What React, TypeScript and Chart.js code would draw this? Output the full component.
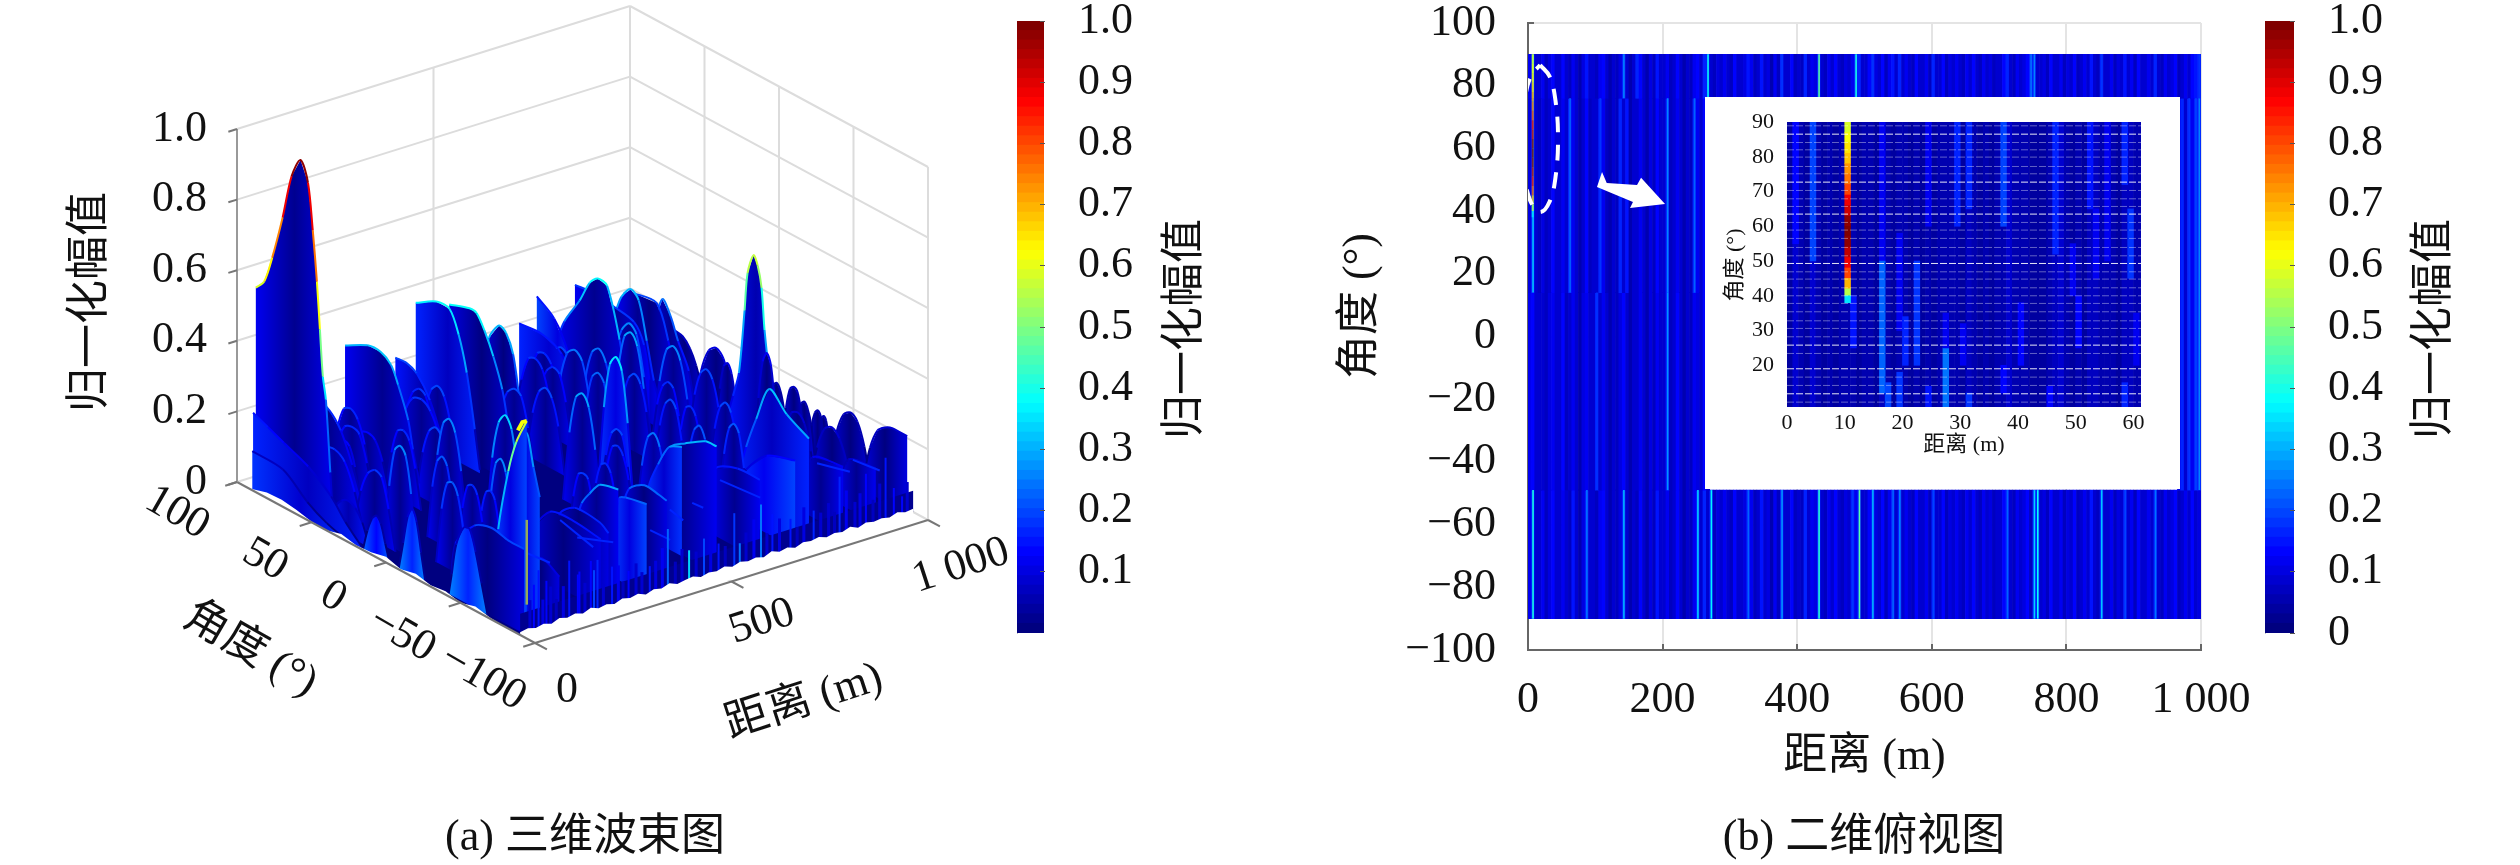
import React, { useEffect, useRef } from "react";
import { Chart, registerables } from "chart.js";

Chart.register(...registerables);

// ---------- axis values ----------
const ampTicks3D = [0, 0.2, 0.4, 0.6, 0.8, 1];
const angleTicks3D = [100, 50, 0, -50, -100];
const rangeTicks3D = [0, 500, 1000];
const wallAngleGrid = [50, 0, -50, -100];
const cbarTicksLeft = [0.1, 0.2, 0.3, 0.4, 0.5, 0.6, 0.7, 0.8, 0.9, 1];
const cbarTicksRight = [0, 0.1, 0.2, 0.3, 0.4, 0.5, 0.6, 0.7, 0.8, 0.9, 1];
const heatRangeTicks = [0, 200, 400, 600, 800, 1000];
const heatAngleTicks = [100, 80, 60, 40, 20, 0, -20, -40, -60, -80, -100];
const insetRangeTicks = [0, 10, 20, 30, 40, 50, 60];
const insetAngleTicks = [90, 80, 70, 60, 50, 40, 30, 20];

// ---------- 3-D surface: constant-range sheets (r = range, a = angles, z = normalised amplitude, f = face, e = edge gain) ----------
const farSheets = [
  { r: 985, a: [-60, -90], z: [0.02, 0.13, 0.19, 0.21, 0.22, 0.22, 0.22], f: 0.01, e: 0.45 },
  { r: 1000, a: [-34, -62], z: [0, 0.11, 0.17, 0.186, 0.17, 0.11, 0], f: 0.01, e: 0.45 },
  { r: 1000, a: [-25, -35], z: [0, 0.08, 0.125, 0.135, 0.125, 0.08, 0], f: 0.01, e: 0.45 },
  { r: 1000, a: [-20, -32], z: [0, 0.09, 0.13, 0.142, 0.13, 0.08, 0], f: 0.01, e: 0.45 },
  { r: 1000, a: [-10, -24], z: [0, 0.09, 0.135, 0.146, 0.13, 0.09, 0], f: 0.01, e: 0.45 },
  { r: 1000, a: [-2, -18], z: [0, 0.1, 0.16, 0.172, 0.16, 0.1, 0], f: 0.01, e: 0.45 },
  { r: 1000, a: [9, -6], z: [0, 0.09, 0.145, 0.157, 0.14, 0.09, 0], f: 0.01, e: 0.45 },
  { r: 960, a: [67.4, 60.6, 54, 49.2, 45, 38], z: [0.223, 0.19, 0.183, 0.16, 0.12, 0.02], f: 0.015, e: 0.45 },
  { r: 930, a: [39, 8.6], z: [0, 0.14, 0.21, 0.23, 0.21, 0.13, 0], f: 0.015, e: 0.55 },
  { r: 930, a: [24, 8], z: [0, 0.12, 0.19, 0.204, 0.18, 0.11, 0], f: 0.015, e: 0.55 },
  { r: 911, a: [-44, -74], z: [0, 0.12, 0.185, 0.2, 0.18, 0.12, 0], f: 0.01, e: 0.5 },
  { r: 905, a: [-64, -71.6, -90], z: [0.05, 0.14, 0.157], f: 0.02, e: 0.7 },
  { r: 900, a: [-26, -52], z: [0, 0.12, 0.19, 0.2, 0.18, 0.11, 0], f: 0.01, e: 0.5 },
  { r: 898, a: [8, 4, 0, -3.8, -5.8, -9.8, -12.6, -15.2, -17.2, -20.6, -22.6, -30.8], z: [0.08, 0.15, 0.224, 0.41, 0.52, 0.58, 0.557, 0.5, 0.385, 0.266, 0.24, 0.1], f: 0.06, e: 1 },
  { r: 895, a: [62, 56.6, 50.6, 45, 40, 32.8, 28], z: [0.12, 0.228, 0.319, 0.283, 0.224, 0.156, 0.03], f: 0.03, e: 0.9 },
  { r: 880, a: [-15, -32], z: [0, 0.2, 0.31, 0.34, 0.31, 0.19, 0], f: 0.015, e: 0.4 },
  { r: 870, a: [70, 61.4, 47.8, 40, 36], z: [0.3, 0.317, 0.323, 0.234, 0.15], f: 0.015, e: 0.7 },
  { r: 861, a: [24, 0], z: [0, 0.13, 0.2, 0.22, 0.2, 0.13, 0], f: 0.02, e: 1 },
  { r: 841, a: [67, 63.6, 57.6, 52.2, 46.8, 42, 38.6], z: [0.275, 0.316, 0.35, 0.33, 0.228, 0.126, 0.08], f: 0.02, e: 1 },
  { r: 822, a: [90, 77.6, 64, 50.4, 43.6, 40], z: [0.295, 0.3, 0.293, 0.28, 0.23, 0.14], f: 0.02, e: 0.7 },
  { r: 822, a: [-60, -69.4, -90], z: [0.05, 0.17, 0.19], f: 0.02, e: 0.7 },
  { r: 792, a: [30, 2], z: [0, 0.18, 0.28, 0.3, 0.27, 0.17, 0], f: 0.02, e: 1 },
  { r: 792, a: [-8, -30], z: [0, 0.13, 0.2, 0.22, 0.2, 0.13, 0], f: 0.03, e: 1 },
  { r: 789, a: [60, 30], z: [0, 0.18, 0.27, 0.3, 0.28, 0.17, 0], f: 0.02, e: 1 },
  { r: 782, a: [28, 6], z: [0, 0.12, 0.18, 0.2, 0.19, 0.12, 0], f: 0.02, e: 1 },
];

const midSheets = [
  { r: 746, a: [83.8, 77, 66.8, 60, 54.6, 48.4, 40, 34.2, 30], z: [0.16, 0.248, 0.33, 0.396, 0.42, 0.414, 0.28, 0.13, 0.05], f: 0.025, e: 1 },
  { r: 745, a: [2, -18], z: [0, 0.12, 0.19, 0.2, 0.18, 0.11, 0], f: 0.02, e: 1 },
  { r: 735, a: [-40, -44, -47.8, -54.6, -63.4, -75, -90], z: [0, 0.108, 0.18, 0.275, 0.38, 0.335, 0.3], f: 0.075, e: 1 },
  { r: 733, a: [42, 16], z: [0, 0.2, 0.31, 0.33, 0.3, 0.19, 0], f: 0.03, e: 1 },
  { r: 731, a: [38, 14], z: [0, 0.13, 0.2, 0.22, 0.2, 0.13, 0], f: 0.02, e: 1 },
  { r: 725, a: [90, 78.4, 69.4, 64.8, 62], z: [0.296, 0.26, 0.188, 0.08, 0.01], f: 0.1, e: 0.6 },
  { r: 713, a: [8, -14], z: [0, 0.13, 0.2, 0.22, 0.2, 0.12, 0], f: 0.02, e: 1 },
  { r: 711, a: [-36, -56], z: [0, 0.15, 0.23, 0.25, 0.23, 0.14, 0], f: 0.03, e: 1 },
  { r: 700, a: [-48, -50.6, -57.2, -70.8, -90], z: [0, 0.08, 0.15, 0.22, 0.25], f: 0.11, e: 0.6 },
  { r: 692, a: [80, 50], z: [0, 0.13, 0.2, 0.22, 0.2, 0.13, 0], f: 0.02, e: 1 },
  { r: 686, a: [52, 24], z: [0, 0.17, 0.26, 0.28, 0.25, 0.16, 0], f: 0.02, e: 1 },
  { r: 680, a: [90, 75, 61.4, 54, 50], z: [0.235, 0.24, 0.214, 0.14, 0.02], f: 0.08, e: 0.7 },
  { r: 668, a: [84, 56], z: [0, 0.12, 0.19, 0.2, 0.18, 0.12, 0], f: 0.02, e: 1 },
  { r: 650, a: [-28, -50], z: [0, 0.15, 0.23, 0.25, 0.22, 0.14, 0], f: 0.03, e: 1 },
  { r: 643, a: [58, 28], z: [0, 0.17, 0.26, 0.28, 0.26, 0.16, 0], f: 0.02, e: 1 },
  { r: 641, a: [70, 44], z: [0, 0.12, 0.18, 0.2, 0.19, 0.12, 0], f: 0.02, e: 1 },
  { r: 638, a: [82, 54], z: [0, 0.12, 0.19, 0.2, 0.18, 0.11, 0], f: 0.02, e: 1 },
  { r: 623, a: [34, 10], z: [0, 0.16, 0.25, 0.27, 0.25, 0.15, 0], f: 0.02, e: 1 },
  { r: 610, a: [-56, -60, -75, -90], z: [0.08, 0.19, 0.225, 0.227], f: 0.02, e: 0.8 },
  { r: 562, a: [6, -18], z: [0, 0.24, 0.37, 0.4, 0.37, 0.23, 0], f: 0.095, e: 1 },
  { r: 546, a: [50, 24], z: [0, 0.13, 0.2, 0.22, 0.2, 0.13, 0], f: 0.02, e: 1 },
  { r: 538, a: [-2, -24], z: [0, 0.13, 0.2, 0.22, 0.21, 0.13, 0], f: 0.03, e: 1 },
  { r: 522, a: [-30, -54], z: [0, 0.17, 0.26, 0.28, 0.25, 0.16, 0], f: 0.04, e: 1 },
  { r: 510, a: [69.4, 67.4, 65.4, 58.6, 54, 49.2, 45, 42], z: [0.07, 0.21, 0.31, 0.36, 0.35, 0.3, 0.18, 0.04], f: 0.015, e: 1 },
  { r: 510, a: [-10, -32], z: [0, 0.12, 0.19, 0.2, 0.18, 0.12, 0], f: 0.03, e: 1 },
  { r: 500, a: [-44, -45.8, -52, -59.4, -68.8, -82.4, -90], z: [0.03, 0.148, 0.224, 0.29, 0.32, 0.357, 0.36], f: 0.02, e: 1 },
  { r: 495, a: [-44, -45.8, -52, -59.4, -68], z: [0.03, 0.148, 0.224, 0.29, 0.31], f: 0.09, e: 1 },
  { r: 493, a: [58, 30], z: [0, 0.13, 0.2, 0.22, 0.21, 0.13, 0], f: 0.02, e: 1 },
  { r: 473, a: [6, -20], z: [0, 0.2, 0.31, 0.33, 0.3, 0.19, 0], f: 0.03, e: 1 },
  { r: 444, a: [62, 34], z: [0, 0.12, 0.19, 0.2, 0.18, 0.12, 0], f: 0.02, e: 1 },
  { r: 440, a: [73.6, 60, 55.2, 50, 44, 38, 33.6, 30], z: [0.41, 0.43, 0.427, 0.39, 0.33, 0.25, 0.145, 0.04], f: 0.015, e: 1 },
  { r: 438, a: [-22, -42], z: [0, 0.13, 0.19, 0.2, 0.18, 0.11, 0], f: 0.03, e: 1 },
  { r: 417, a: [90, 76.2, 67.4, 61.2, 55.8, 50.4, 47], z: [0.385, 0.42, 0.42, 0.36, 0.265, 0.117, 0.01], f: 0.075, e: 1 },
];

const nearSheets = [
  { r: 378, a: [78, 52], z: [0, 0.13, 0.2, 0.22, 0.2, 0.13, 0], f: 0.02, e: 1 },
  { r: 373, a: [-24, -44], z: [0, 0.12, 0.19, 0.2, 0.19, 0.11, 0], f: 0.03, e: 1 },
  { r: 373, a: [-59.4, -64.8, -75, -85, -90], z: [0.15, 0.227, 0.26, 0.255, 0.25], f: 0.015, e: 1 },
  { r: 365, a: [90, 82.4, 75.6, 66.8, 58.6, 54], z: [0.248, 0.25, 0.236, 0.18, 0.085, 0], f: 0.06, e: 0.9 },
  { r: 361, a: [86, 60], z: [0, 0.12, 0.18, 0.2, 0.19, 0.12, 0], f: 0.02, e: 1 },
  { r: 333, a: [82, 46], z: [0, 0.13, 0.19, 0.2, 0.18, 0.12, 0], f: 0.02, e: 1 },
  { r: 322, a: [-67, -71.6, -76, -90], z: [0.12, 0.234, 0.245, 0.258], f: 0.1, e: 1 },
  { r: 258, a: [84, 58], z: [0, 0.15, 0.23, 0.25, 0.23, 0.14, 0], f: 0.02, e: 1 },
  { r: 251, a: [46, 20], z: [0, 0.13, 0.2, 0.22, 0.2, 0.13, 0], f: 0.02, e: 1 },
  { r: 250, a: [-60.6, -65.4, -70.8, -77.6, -90], z: [0.147, 0.23, 0.27, 0.31, 0.325], f: 0.02, e: 1 },
  { r: 237, a: [90, 74.8, 66, 59.2, 54.4, 47.6, 44.4, 40], z: [0.327, 0.362, 0.363, 0.343, 0.297, 0.212, 0.136, 0.05], f: 0.02, e: 1 },
  { r: 231, a: [-6, -32], z: [0, 0.24, 0.35, 0.38, 0.35, 0.22, 0], f: 0.03, e: 1 },
  { r: 225, a: [-50, -57.2, -67.4, -84, -90], z: [0.05, 0.19, 0.23, 0.227, 0.21], f: 0.015, e: 0.8 },
  { r: 214, a: [26, 2], z: [0, 0.18, 0.28, 0.3, 0.27, 0.17, 0], f: 0.02, e: 1 },
  { r: 211, a: [56, 32], z: [0, 0.12, 0.19, 0.2, 0.18, 0.11, 0], f: 0.02, e: 1 },
  { r: 205, a: [-40, -56, -71.6, -90], z: [0.1, 0.2, 0.21, 0.2], f: 0.015, e: 0.8 },
  { r: 200, a: [80, 50], z: [0, 0.09, 0.14, 0.15, 0.14, 0.09, 0], f: 0.02, e: 1 },
  { r: 191, a: [88, 60], z: [0, 0.12, 0.19, 0.2, 0.18, 0.12, 0], f: 0.02, e: 1 },
  { r: 178, a: [-20, -40], z: [0, 0.18, 0.28, 0.3, 0.27, 0.17, 0], f: 0.03, e: 1 },
  { r: 171, a: [-16, -34], z: [0, 0.13, 0.19, 0.2, 0.18, 0.1, 0], f: 0.02, e: 1 },
  { r: 160, a: [80, 50], z: [0, 0.11, 0.17, 0.18, 0.17, 0.1, 0], f: 0.02, e: 1 },
  { r: 159, a: [-6, -26], z: [0, 0.12, 0.19, 0.2, 0.18, 0.11, 0], f: 0.02, e: 1 },
  { r: 143, a: [10, -10], z: [0, 0.15, 0.23, 0.25, 0.23, 0.14, 0], f: 0.02, e: 1 },
  { r: 140, a: [76, 54], z: [0, 0.09, 0.14, 0.15, 0.14, 0.09, 0], f: 0.02, e: 1 },
  { r: 118, a: [-10, -24], z: [0, 0.09, 0.14, 0.15, 0.14, 0.08, 0], f: 0.02, e: 1 },
  { r: 110, a: [90, 44], z: [0.12, 0.22, 0.25, 0.24, 0.2, 0.12, 0.02], f: 0.03, e: 0.8 },
  { r: 100, a: [-65, -72, -78, -90], z: [0.03, 0.12, 0.156, 0.13], f: 0.015, e: 0.8 },
  { r: 82, a: [-12, -34], z: [0, 0.16, 0.24, 0.25, 0.22, 0.13, 0], f: 0.03, e: 1 },
  { r: 55, a: [16, -6], z: [0, 0.17, 0.28, 0.3, 0.28, 0.18, 0], f: 0.03, e: 1 },
  { r: 50, a: [-70, -74.2, -81, -85.8, -90], z: [0.2, 0.42, 0.535, 0.448, 0.373], f: 0.1, e: 0.55 },
  { r: 47, a: [34, 6], z: [0, 0.12, 0.18, 0.2, 0.19, 0.11, 0], f: 0.03, e: 1 },
  { r: 44, a: [66, 26], z: [0, 0.12, 0.19, 0.2, 0.18, 0.11, 0], f: 0.04, e: 1 },
  { r: 18, a: [44, 16], z: [0, 0.06, 0.09, 0.1, 0.09, 0.06, 0], f: 0.06, e: 1 },
  { r: 17, a: [-68, -70.8, -77.6, -83, -90], z: [0.1, 0.25, 0.43, 0.525, 0.6], f: 0.1, e: 1 },
  { r: 10, a: [90, 84.4, 79, 72, 66, 60, 55, 51.8, 49, 47, 45, 43, 40, 38], z: [0.57, 0.6, 0.68, 0.81, 0.94, 1, 0.947, 0.82, 0.68, 0.55, 0.42, 0.36, 0.16, 0.02], f: 0.02, e: 1 },
  { r: 10, a: [-41, -44, -56.6, -68, -79.6, -90], z: [0.03, 0.15, 0.23, 0.25, 0.24, 0.24], f: 0.015, e: 0.9 },
  { r: 8, a: [-40, -42, -45, -50, -54, -58, -62, -66], z: [0, 0.06, 0.15, 0.21, 0.215, 0.16, 0.08, 0], f: 0.16, e: 0.4 },
  { r: 3, a: [90, 80, 69.4, 53, 37.6, 28, 16], z: [0.218, 0.2, 0.18, 0.15, 0.1, 0.05, 0], f: 0.07, e: 0.8 },
  { r: 2, a: [16, -2], z: [0, 0.06, 0.1, 0.116, 0.1, 0.05, 0], f: 0.13, e: 0.5 },
  { r: 2, a: [-8, -26], z: [0, 0.08, 0.16, 0.19, 0.16, 0.08, 0], f: 0.16, e: 0.5 },
  { r: 1, a: [90, 69.4, 53, 40, 25], z: [0.11, 0.105, 0.05, 0.02, 0], f: 0.085, e: 0.8 },
];

// bright crest fragments inside the near-right blocks
const innerCrests = [
  { r: 915, a: [-72, -90], z: [0.136, 0.147] },
  { r: 839, a: [-68, -90], z: [0.144, 0.17] },
  { r: 611, a: [-63, -90], z: [0.164, 0.176] },
  { r: 466, a: [-82.6, -90], z: [0.195, 0.198] },
  { r: 415, a: [-81, -90], z: [0.19, 0.18] },
  { r: 382, a: [-76.5, -90], z: [0.133, 0.136] },
  { r: 237, a: [-65.8, -90], z: [0.138, 0.18] },
  { r: 186, a: [-67.8, -90], z: [0.21, 0.184] },
  { r: 76, a: [-74.4, -90], z: [0.17, 0.178] },
];
// the yellow glint on top of the near wedge
const glintRange = 17;
const glintAngles = [-84, -87, -90];
const glintAmps = [0.56, 0.59, 0.6];

// comb of short peaks on the angle = -90 face
const stripRanges = [35, 47, 67, 125, 147, 151, 180, 188, 197, 234, 276, 330, 376, 430, 468, 505, 545, 559, 613, 642, 688, 747, 813, 880, 930, 951, 972];
const stripTops = [0.13, 0.167, 0.13, 0.167, 0.12, 0.127, 0.147, 0.118, 0.144, 0.112, 0.085, 0.08, 0.169, 0.09, 0.11, 0.083, 0.155, 0.065, 0.156, 0.118, 0.089, 0.092, 0.165, 0.15, 0.178, 0.085, 0.054];
const stripAmps = [0.14, 0.15, 0.13, 0.15, 0.13, 0.14, 0.14, 0.2, 0.16, 0.15, 0.13, 0.15, 0.22, 0.34, 0.2, 0.15, 0.18, 0.24, 0.24, 0.15, 0.15, 0.16, 0.16, 0.14, 0.15, 0.14, 0.14];
const combRanges = [25, 58, 78, 92, 110, 165, 212, 250, 262, 295, 310, 345, 362, 395, 412, 448, 485, 522, 575, 595, 628, 660, 705, 722, 765, 785, 800, 830, 852, 865, 898, 915, 985];
const combTops = [0.09, 0.08, 0.11, 0.07, 0.1, 0.09, 0.07, 0.11, 0.06, 0.1, 0.07, 0.09, 0.12, 0.07, 0.1, 0.08, 0.11, 0.07, 0.09, 0.12, 0.07, 0.1, 0.06, 0.11, 0.08, 0.1, 0.07, 0.12, 0.08, 0.1, 0.07, 0.11, 0.09];
const combAmps = [0.08, 0.1, 0.09, 0.07, 0.1, 0.09, 0.08, 0.11, 0.07, 0.09, 0.08, 0.1, 0.11, 0.07, 0.09, 0.08, 0.1, 0.07, 0.09, 0.11, 0.08, 0.1, 0.07, 0.1, 0.08, 0.09, 0.07, 0.11, 0.08, 0.1, 0.07, 0.09, 0.08];
const spikeRange = 17;
const spikeAmps = [0.08, 0.32];

// ragged lower edges of the surface (lowest amplitude along the two near faces)
const nearEdgeAngles = [90, 80, 70, 60, 50, 40, 30, 20, 10, 0, -10, -20, -30, -40, -50, -60, -70, -80, -90];
const nearEdgeAmps = [0.003, 0.016, 0.018, 0.012, 0.002, 0, 0.012, 0.003, 0.006, 0.016, 0.004, 0.014, 0.004, 0.01, 0, 0.012, 0.003, 0, 0];
const frontEdgeRanges = [0, 20, 40, 60, 80, 100, 120, 140, 160, 180, 200, 220, 240, 260, 280, 300, 320, 340, 360, 380, 400, 420, 440, 460, 480, 500, 520, 540, 560, 580, 600, 620, 640, 660, 680, 700, 720, 740, 760, 780, 800, 820, 840, 860, 880, 900, 920, 940, 960, 980, 1000];
const frontEdgeAmps = [0.008, 0.012, 0.006, 0.011, 0.004, 0.013, 0.007, 0.012, 0.005, 0.014, 0.006, 0.01, 0.004, 0.013, 0.007, 0.012, 0.003, 0.011, 0.006, 0.014, 0.005, 0.009, 0.012, 0.004, 0.01, 0.006, 0.013, 0.005, 0.012, 0.007, 0.01, 0.004, 0.014, 0.006, 0.011, 0.003, 0.012, 0.008, 0.013, 0.005, 0.01, 0.006, 0.014, 0.004, 0.012, 0.007, 0.01, 0.005, 0.013, 0.006, 0.009];

// ---------- 2-D top view: amplitude in percent, one value per 5 m range bin ----------
const heatBinWidth = 5;
const heatTopBand = [
  12, 44, 9, 8, 11, 7, 10, 14, 8, 9, 13, 8, 7, 12, 9, 6, 10, 15, 8, 9,
  7, 11, 13, 8, 6, 9, 7, 10, 26, 8, 6, 9, 17, 13, 8, 6, 10, 7, 15, 8,
  9, 11, 7, 8, 14, 8, 6, 9, 7, 11, 13, 8, 16, 38, 9, 7, 10, 8, 12, 9,
  7, 13, 8, 9, 10, 15, 11, 7, 9, 15, 8, 10, 6, 12, 7, 18, 8, 9, 13, 7,
  9, 7, 16, 8, 11, 10, 46, 9, 7, 12, 8, 14, 9, 7, 10, 8, 12, 40, 16, 9,
  8, 13, 18, 10, 9, 14, 7, 11, 15, 8, 17, 8, 12, 9, 7, 14, 9, 8, 11, 7,
  16, 9, 8, 13, 7, 10, 8, 12, 9, 7, 11, 8, 14, 9, 7, 12, 8, 10, 7, 9,
  8, 13, 17, 9, 7, 11, 8, 10, 13, 24, 26, 9, 8, 10, 7, 14, 9, 8, 12, 7,
  10, 8, 13, 7, 9, 11, 8, 15, 8, 7, 18, 9, 8, 12, 7, 10, 9, 15, 8, 11,
  7, 13, 9, 8, 11, 8, 16, 9, 7, 12, 8, 10, 14, 7, 9, 11, 8, 13, 15, 18,
];
const heatUpperLeft = [
  10, 32, 8, 7, 10, 7, 9, 13, 8, 9, 12, 8, 22, 11, 8, 6, 9, 13, 7, 9,
  8, 18, 12, 7, 6, 9, 7, 16, 8, 15, 6, 9, 8, 12, 8, 6, 10, 7, 13, 8,
  9, 26, 7, 8, 12, 8, 6, 9, 7, 22, 11, 8, 14, 9,
];
const heatLowerLeft = [
  11, 14, 8, 8, 9, 7, 10, 12, 8, 9, 13, 7, 8, 11, 9, 6, 10, 12, 8, 9,
  18, 9, 11, 8, 6, 9, 7, 10, 13, 8, 6, 9, 8, 11, 8, 6, 10, 7, 12, 8,
  9, 28, 7, 8, 13, 8, 6, 9, 7, 11, 10, 8, 13, 8,
];
const heatRightEdge = [12, 16, 9, 18, 11, 20, 26];
const heatBottomBand = [
  12, 40, 9, 8, 11, 7, 10, 14, 8, 9, 12, 8, 7, 15, 9, 6, 10, 24, 8, 9,
  7, 11, 14, 8, 6, 9, 7, 10, 30, 8, 6, 9, 7, 13, 8, 6, 10, 7, 15, 8,
  9, 11, 7, 8, 14, 8, 6, 9, 7, 11, 34, 8, 16, 9, 36, 7, 10, 8, 12, 9,
  7, 13, 8, 9, 10, 22, 11, 7, 9, 15, 8, 10, 6, 12, 7, 28, 8, 9, 13, 7,
  9, 7, 16, 8, 11, 10, 42, 9, 7, 12, 8, 14, 9, 7, 10, 8, 18, 11, 46, 9,
  8, 13, 30, 10, 9, 14, 7, 11, 22, 8, 26, 8, 12, 9, 7, 14, 9, 8, 11, 7,
  20, 9, 8, 13, 7, 10, 8, 12, 9, 7, 11, 8, 14, 9, 7, 12, 8, 10, 7, 9,
  8, 13, 22, 9, 7, 11, 8, 10, 13, 7, 34, 38, 8, 10, 7, 14, 9, 8, 12, 7,
  10, 8, 13, 7, 9, 11, 8, 15, 8, 7, 32, 9, 8, 12, 7, 10, 9, 20, 8, 11,
  7, 13, 9, 8, 11, 8, 24, 9, 7, 12, 8, 10, 14, 7, 9, 11, 8, 13, 9, 10,
];
const peakRange = 7;
const peakAngles = [90, 87, 84, 81, 78, 75, 72, 69, 66, 63, 60, 57, 54, 51, 48, 45, 42, 40, 38];
const peakAmps = [0.58, 0.62, 0.65, 0.68, 0.72, 0.76, 0.8, 0.88, 0.92, 0.97, 1, 0.98, 0.93, 0.88, 0.8, 0.7, 0.55, 0.35, 0.18];
const ellipseRanges = [18, 32, 41, 44.6, 41, 32, 18, 4, -5, -9, -5, 4, 18];
const ellipseAngles = [86.6, 83, 75, 63, 51, 43, 39.7, 43, 51, 63, 75, 83, 86.6];
const arrowRanges = [110, 117, 162, 168, 203.6, 151.6, 156, 102.5];
const arrowAngles = [52.5, 49, 48.3, 50.6, 42.3, 41, 42.9, 47.7];

// ---------- inset, 1 m bins ----------
const insetBase = [
  4, 9, 6, 4, 9, 5, 4, 5, 4, 5, 6, 5, 4, 5, 5, 4, 7, 6, 4, 5,
  5, 4, 6, 4, 6, 4, 5, 5, 6, 6, 4, 7, 5, 4, 5, 4, 5, 6, 8, 5,
  5, 5, 4, 4, 4, 5, 7, 8, 5, 4, 6, 4, 7, 7, 5, 6, 5, 4, 7, 7, 6, 6,
];
const insetStreakBins = [1, 4, 11, 16, 16, 17, 19, 19, 20, 22, 24, 24, 27, 27, 29, 31, 31, 30, 37, 37, 40, 46, 45, 49, 50, 52, 53, 55, 58, 58, 59, 60];
const insetStreakFrom = [55, 50, 25, 50, 12, 8, 8, 30, 20, 20, 60, 8, 8, 25, 60, 65, 8, 20, 60, 12, 20, 52, 8, 40, 25, 65, 45, 50, 72, 8, 45, 20];
const insetStreakTo = [90, 90, 40, 90, 50, 15, 18, 58, 34, 50, 90, 14, 25, 35, 90, 90, 12, 32, 90, 20, 38, 90, 14, 55, 40, 90, 65, 90, 90, 15, 65, 35];
const insetStreakAmps = [0.14, 0.2, 0.15, 0.12, 0.22, 0.2, 0.18, 0.12, 0.17, 0.18, 0.12, 0.15, 0.24, 0.12, 0.17, 0.16, 0.18, 0.12, 0.19, 0.14, 0.13, 0.17, 0.14, 0.12, 0.14, 0.15, 0.12, 0.11, 0.16, 0.16, 0.18, 0.12];
const insetPeakBin = 10;
const insetDimRows = [88.9, 84.1, 82, 79.9, 77.2, 75.1, 70.3, 67.9, 65.7, 61.1, 58.9, 56.5, 53.9, 51.5, 46.9, 44.8, 42.3, 40, 37.8, 35.4, 32.8, 30.6, 28.2, 23.4, 16.6, 14.2, 9.4];
const insetBrightRows = [86.5, 72.7, 63.5, 49.3, 25.8, 19, 11.8];

// ---------- helpers ----------
const SERIF = "'Liberation Serif','Noto Sans CJK SC',serif";
const clamp01 = (v: number) => Math.max(0, Math.min(1, v));
const jet = (v: number, alpha = 1) => {
  const q = Math.min(63, Math.floor(clamp01(v) * 64)) / 63;
  const c = (x: number) => Math.round(255 * clamp01(1.5 - Math.abs(4 * q - x)));
  return `rgba(${c(3)},${c(2)},${c(1)},${alpha})`;
};
// view used for the 3-D plot: angle runs down-right, range runs up-right, amplitude goes up.
const project = (range: number, angle: number, amp: number) => {
  const t = (100 - angle) / 200;
  return { x: 237 + 298 * t + 0.393 * range, y: 482 + 161 * t - 0.123 * range - 353 * amp };
};
const fixedTicks = (list: number[]) => (s: any) => {
  s.ticks = list.map((value) => ({ value }));
};
const fixedBox = (size: { width?: number; height?: number }) => (s: any) => {
  if (size.width !== undefined) s.width = size.width;
  if (size.height !== undefined) s.height = size.height;
  s.paddingTop = 0;
  s.paddingBottom = 0;
  s.paddingLeft = 0;
  s.paddingRight = 0;
};
const textPlugin = (items: any[]) => ({
  id: "texts",
  afterDraw(chart: any) {
    const ctx = chart.ctx;
    items.forEach((it) => {
      ctx.save();
      ctx.translate(it.x, it.y);
      ctx.rotate(((it.rot || 0) * Math.PI) / 180);
      ctx.font = `${it.size || 44}px ${SERIF}`;
      ctx.fillStyle = "#111";
      ctx.textAlign = it.align || "center";
      ctx.textBaseline = "middle";
      ctx.fillText(it.text, 0, 0);
      ctx.restore();
    });
  },
});
// fills closed outlines of datasets that carry a bodyColor, right before they are painted.
// A bodyShade pair lifts the two flanks of a sheet towards a lighter blue than its middle.
const bodyPlugin = {
  id: "bodies",
  beforeDatasetDraw(chart: any, args: any) {
    const ds = chart.data.datasets[args.index];
    if (!ds.bodyColor) return;
    const pts = args.meta.data;
    const ctx = chart.ctx;
    ctx.save();
    ctx.beginPath();
    pts.forEach((p: any, i: number) => (i ? ctx.lineTo(p.x, p.y) : ctx.moveTo(p.x, p.y)));
    ctx.closePath();
    let fillStyle = ds.bodyColor;
    if (ds.bodyShade) {
      const xs = pts.map((p: any) => p.x);
      const x0 = Math.min(...xs);
      const x1 = Math.max(...xs);
      if (x1 > x0) {
        const g = ctx.createLinearGradient(x0, 0, x1, 0);
        g.addColorStop(0, ds.bodyShade[1]);
        g.addColorStop(0.5, ds.bodyShade[0]);
        g.addColorStop(1, ds.bodyShade[1]);
        fillStyle = g;
      }
    }
    ctx.fillStyle = fillStyle;
    ctx.fill();
    ctx.restore();
  },
};
const baseOptions = (extra: any) => ({
  responsive: false,
  devicePixelRatio: 1,
  animation: false,
  events: [],
  plugins: { legend: { display: false }, tooltip: { enabled: false } },
  ...extra,
});
const stroke = (pts: any[], color: string, width: number, extra: any = {}) => ({
  type: "line",
  data: pts,
  borderColor: color,
  borderWidth: width,
  pointRadius: 0,
  fill: false,
  tension: 0,
  clip: false,
  ...extra,
});
const body = (pts: any[], color: string, shade?: string[]) => ({
  type: "line",
  data: pts,
  bodyColor: color,
  bodyShade: shade,
  borderColor: "rgba(0,0,0,0)",
  borderWidth: 0,
  pointRadius: 0,
  fill: false,
  tension: 0,
  clip: false,
});

// ---------- chart 1: 3-D surface ----------
function surfaceConfig() {
  const GRID = "#dcdcdc";
  const AXIS = "#777";
  const layers: any[] = [];
  const line3 = (a: number[], b: number[], c = GRID, w = 2) => layers.push(stroke([project(a[0], a[1], a[2]), project(b[0], b[1], b[2])], c, w));

  ampTicks3D.forEach((z) => {
    line3([0, 100, z], [1000, 100, z]);
    line3([1000, 100, z], [1000, -100, z]);
  });
  line3([500, 100, 0], [500, 100, 1]);
  line3([1000, 100, 0], [1000, 100, 1]);
  wallAngleGrid.forEach((a) => line3([1000, a, 0], [1000, a, 1]));
  line3([500, 100, 0], [500, -100, 0]);

  layers.push(
    body([project(0, 90, 0), project(1000, 90, 0), project(1000, -90, 0), project(0, -90, 0)], jet(0.012))
  );

  const sheets = [...farSheets, ...midSheets, ...nearSheets].slice().sort((p, q) => q.r - p.r);
  sheets.forEach((s) => {
    const angles =
      s.a.length === s.z.length ? s.a : s.z.map((_, i) => s.a[0] + ((s.a[1] - s.a[0]) * i) / (s.z.length - 1));
    const crest = s.z.map((z, i) => project(s.r, angles[i], z));
    layers.push(
      body([project(s.r, angles[0], 0), ...crest, project(s.r, angles[angles.length - 1], 0)], jet(s.f), [
        jet(s.f),
        jet(s.f + 0.09),
      ])
    );
    layers.push(
      stroke(crest, jet(0.2), 2, {
        tension: 0.3,
        segment: {
          borderColor: (ctx: any) => {
            const z = (s.z[ctx.p0DataIndex] + s.z[ctx.p1DataIndex]) / 2;
            return jet(z * s.e * (z > 0.45 ? 1 : 0.9));
          },
        },
      })
    );
  });
  innerCrests.forEach((s) => {
    layers.push(stroke(s.z.map((z, i) => project(s.r, s.a[i], z)), jet(0.17), 2));
  });

  layers.push(
    body([project(0, -90, 0), project(1000, -90, 0), project(1000, -90, 0.06), project(0, -90, 0.06)], jet(0.02))
  );
  combRanges.forEach((r, i) => {
    layers.push(stroke([project(r, -90, 0), project(r, -90, combTops[i])], jet(combAmps[i]), 3));
  });
  stripRanges.forEach((r, i) => {
    layers.push(stroke([project(r, -90, 0), project(r, -90, stripTops[i])], jet(stripAmps[i]), 2));
  });
  layers.push(stroke([project(spikeRange, -90, spikeAmps[0]), project(spikeRange, -90, spikeAmps[1])], "rgb(150,170,90)", 2.5));
  layers.push(stroke(glintAngles.map((a, i) => project(glintRange, a, glintAmps[i])), jet(0.62), 4));

  layers.push(
    body(
      [...frontEdgeRanges.map((r, i) => project(r, -90, frontEdgeAmps[i])), project(1000, -90, -0.03), project(0, -90, -0.03)],
      "#fff"
    )
  );
  layers.push(
    body(
      [...nearEdgeAngles.map((a, i) => project(0, a, nearEdgeAmps[i])), project(0, -90, -0.03), project(0, 90, -0.03)],
      "#fff"
    )
  );

  line3([0, 100, 0], [0, -100, 0], AXIS);
  line3([0, -100, 0], [1000, -100, 0], AXIS);
  line3([0, 100, 0], [0, 100, 1], "#999");
  angleTicks3D.forEach((a) => line3([0, a, 0], [-30, a, 0], AXIS));
  rangeTicks3D.forEach((r) => line3([r, -100, 0], [r, -108, 0], AXIS));
  ampTicks3D.forEach((z) => line3([0, 100, z], [-22, 100, z], AXIS));

  const zt = ampTicks3D.map((z) => ({
    text: z === 0 ? "0" : z === 1 ? "1.0" : z.toFixed(1),
    x: 207,
    y: project(0, 100, z).y,
    align: "right",
  }));
  const texts = [
    ...zt,
    { text: "归一化幅值", x: 91, y: 302, rot: -90 },
    { text: "100", x: 177, y: 513, rot: 30 },
    { text: "50", x: 265, y: 560, rot: 30 },
    { text: "0", x: 333, y: 597, rot: 30 },
    { text: "\u221250", x: 402, y: 635, rot: 30 },
    { text: "\u2212100", x: 483, y: 678, rot: 30 },
    { text: "角度 (°)", x: 250, y: 650, rot: 30 },
    { text: "0", x: 567, y: 690 },
    { text: "500", x: 762, y: 622, rot: -18 },
    { text: "1 000", x: 961, y: 566, rot: -18 },
    { text: "距离 (m)", x: 804, y: 702, rot: -18 },
    { text: "(a) 三维波束图", x: 585, y: 838 },
  ];

  return {
    type: "line",
    data: { datasets: layers.reverse() },
    plugins: [bodyPlugin, textPlugin(texts)],
    options: baseOptions({
      layout: { padding: 0, autoPadding: false },
      scales: {
        x: { type: "linear", display: false, min: 0, max: 1010 },
        y: { type: "linear", display: false, min: 0, max: 865, reverse: true },
      },
    }),
  };
}

// ---------- colour bars ----------
function colorbarConfig(ticks: number[], barWidth: number, canvasWidth: number, titleX: number) {
  const levels = Array.from({ length: 64 }, (_, i) => i);
  return {
    type: "bar",
    data: {
      labels: ["c"],
      datasets: levels.map((i) => ({
        data: [[i / 64, (i + 1) / 64]],
        backgroundColor: jet((i + 0.5) / 64),
        grouped: false,
        barPercentage: 1,
        categoryPercentage: 1,
        inflateAmount: 0.5,
      })),
    },
    plugins: [textPlugin([{ text: "归一化幅值", x: titleX, y: 329, rot: -90 }])],
    options: baseOptions({
      layout: { padding: { top: 21, bottom: 27, left: 0, right: 0 }, autoPadding: false },
      scales: {
        x: { display: false },
        y: {
          position: "right",
          min: 0,
          max: 1,
          afterBuildTicks: fixedTicks(ticks),
          afterFit: fixedBox({ width: canvasWidth - barWidth }),
          border: { color: "#888", width: 1 },
          grid: { drawOnChartArea: false, z: 1, tickLength: -4, tickColor: "#555", color: "#555" },
          ticks: {
            padding: 38,
            color: "#111",
            font: { family: SERIF, size: 44 },
            callback: (v: number) => (v === 0 ? "0" : Number(v).toFixed(1)),
          },
        },
      },
    }),
  };
}

// ---------- chart 2: top view ----------
function heatConfig() {
  // A bin is far wider than a real target line, so strong bins are painted as thin lines over a capped cell.
  const CAP = 16;
  const toBars = (vals: number[], lo: number, hi: number, firstBin = 0) => ({
    data: vals.map((_, i) => ({ x: (firstBin + i + 0.5) * heatBinWidth, y: [lo, hi] })),
    backgroundColor: vals.map((v) => jet(Math.min(v, CAP) / 100)),
    grouped: false,
    barPercentage: 1,
    categoryPercentage: 1,
  });
  const toLines = (vals: number[], lo: number, hi: number, firstBin = 0) =>
    vals
      .map((v, i) => ({ v, i }))
      .filter((c) => c.v > CAP)
      .map((c) => ({
        type: "line",
        data: [
          { x: (firstBin + c.i + 0.5) * heatBinWidth, y: lo },
          { x: (firstBin + c.i + 0.5) * heatBinWidth, y: hi },
        ],
        borderColor: jet(c.v / 100),
        borderWidth: 1.6,
        pointRadius: 0,
        order: -1,
      }));
  const peakPts = peakAngles.map((a) => ({ x: peakRange, y: a }));
  return {
    type: "bar",
    data: {
      datasets: [
        {
          type: "line",
          data: arrowRanges.map((x, i) => ({ x, y: arrowAngles[i] })),
          bodyColor: "#fff",
          borderWidth: 0,
          pointRadius: 0,
          tension: 0,
          order: -4,
        },
        {
          type: "line",
          data: ellipseRanges.map((x, i) => ({ x, y: ellipseAngles[i] })),
          borderColor: "#fff",
          borderWidth: 4,
          borderDash: [16, 12],
          pointRadius: 0,
          tension: 0.4,
          order: -3,
        },
        {
          type: "line",
          data: peakPts,
          borderWidth: 2,
          pointRadius: 0,
          tension: 0,
          order: -2,
          segment: { borderColor: (c: any) => jet(peakAmps[c.p0DataIndex], 0.8) },
        },
        ...toLines(heatTopBand, 76, 90),
        ...toLines(heatUpperLeft, 14, 76),
        ...toLines(heatLowerLeft, -49, 14),
        ...toLines(heatRightEdge, -49, 76, 193),
        ...toLines(heatBottomBand, -90, -49),
        toBars(heatTopBand, 76, 90),
        toBars(heatUpperLeft, 14, 76),
        toBars(heatLowerLeft, -49, 14),
        toBars(heatRightEdge, -49, 76, 193),
        toBars(heatBottomBand, -90, -49),
      ],
    },
    plugins: [
      bodyPlugin,
      textPlugin([
        { text: "角度 (°)", x: 31, y: 306, rot: -90 },
        { text: "(b) 二维俯视图", x: 534, y: 838 },
      ]),
    ],
    options: baseOptions({
      layout: { padding: { top: 23, right: 61, left: 0, bottom: 0 }, autoPadding: false },
      scales: {
        x: {
          type: "linear",
          min: 0,
          max: 1000,
          offset: false,
          afterBuildTicks: fixedTicks(heatRangeTicks),
          afterFit: fixedBox({ height: 215 }),
          border: { color: "#666", width: 2 },
          grid: { offset: false, color: "#e4e4e4", lineWidth: 2, tickColor: "#666", tickLength: -6 },
          title: {
            display: true,
            text: "距离 (m)",
            color: "#111",
            font: { family: SERIF, size: 44, lineHeight: 1 },
            padding: { top: 0, bottom: 86 },
          },
          ticks: {
            padding: 30,
            autoSkip: false,
            maxRotation: 0,
            color: "#111",
            font: { family: SERIF, size: 44 },
            callback: (v: number) => (v === 1000 ? "1 000" : String(v)),
          },
        },
        y: {
          min: -100,
          max: 100,
          afterBuildTicks: fixedTicks(heatAngleTicks),
          afterFit: fixedBox({ width: 198 }),
          border: { color: "#666", width: 2 },
          grid: { color: "#e4e4e4", lineWidth: 2, tickColor: "#666", tickLength: -6 },
          ticks: {
            padding: 38,
            autoSkip: false,
            color: "#111",
            font: { family: SERIF, size: 44 },
            callback: (v: number) => String(v).replace("-", "\u2212"),
          },
        },
      },
    }),
  };
}

// ---------- inset ----------
function insetConfig() {
  const cell = { grouped: false, barPercentage: 1, categoryPercentage: 1 };
  const rows = (list: number[], color: string, order: number) =>
    list.map((a) => ({
      type: "line",
      data: [
        { x: 0, y: a },
        { x: 61.3, y: a },
      ],
      borderColor: color,
      borderWidth: 1,
      borderDash: [7, 2],
      pointRadius: 0,
      order,
    }));
  const peakBars = peakAngles.slice(0, -1).map((a, i) => ({
    x: insetPeakBin + 0.5,
    y: [peakAngles[i + 1], a],
  }));
  return {
    type: "bar",
    data: {
      datasets: [
        ...rows(insetBrightRows, "rgba(255,255,255,0.9)", -3),
        ...rows(insetDimRows, "rgba(255,255,255,0.38)", -2),
        {
          ...cell,
          data: peakBars,
          backgroundColor: peakAmps.slice(0, -1).map((v) => jet(v)),
          order: -1,
        },
        {
          ...cell,
          data: insetStreakBins.map((b, i) => ({ x: b + 0.5, y: [insetStreakFrom[i], insetStreakTo[i]] })),
          backgroundColor: insetStreakAmps.map((v) => jet(v)),
          order: 0,
        },
        {
          ...cell,
          data: insetBase.map((_, i) => ({ x: i + 0.5, y: [8, 90] })),
          backgroundColor: insetBase.map((v) => jet(v / 100)),
          order: 1,
        },
      ],
    },
    plugins: [textPlugin([{ text: "角度 (°)", x: 30, y: 168, rot: -90, size: 22 }])],
    options: baseOptions({
      layout: { padding: { top: 25, right: 39, left: 0, bottom: 0 }, autoPadding: false },
      scales: {
        x: {
          type: "linear",
          min: 0,
          max: 61.3,
          offset: false,
          afterBuildTicks: fixedTicks(insetRangeTicks),
          afterFit: fixedBox({ height: 82 }),
          border: { display: false },
          grid: { display: false, drawTicks: false, offset: false },
          title: {
            display: true,
            text: "距离 (m)",
            color: "#111",
            font: { family: SERIF, size: 22, lineHeight: 1 },
            padding: { top: 0, bottom: 33 },
          },
          ticks: { padding: 3, autoSkip: false, maxRotation: 0, color: "#111", font: { family: SERIF, size: 22 } },
        },
        y: {
          min: 8,
          max: 90,
          afterBuildTicks: fixedTicks(insetAngleTicks),
          afterFit: fixedBox({ width: 82 }),
          border: { display: false },
          grid: { display: false, drawTicks: false },
          ticks: { padding: 13, autoSkip: false, color: "#111", font: { family: SERIF, size: 22 } },
        },
      },
    }),
  };
}

function Panel({ left, top, width, height, make, bg }: any) {
  const ref = useRef<HTMLCanvasElement>(null);
  useEffect(() => {
    const chart = new Chart(ref.current as any, make());
    return () => chart.destroy();
  }, []);
  return (
    <canvas
      ref={ref}
      width={width}
      height={height}
      style={{ position: "absolute", left, top, width, height, background: bg || "transparent" }}
    />
  );
}

export default function App() {
  return (
    <div style={{ position: "absolute", left: 0, top: 0, width: 2520, height: 865, background: "#fff", overflow: "hidden" }}>
      <Panel left={0} top={0} width={1010} height={865} make={surfaceConfig} />
      <Panel left={1017} top={0} width={204} height={660} make={() => colorbarConfig(cbarTicksLeft, 27, 204, 169)} />
      <Panel left={1330} top={0} width={932} height={865} make={heatConfig} />
      <Panel left={1705} top={97} width={475} height={392} make={insetConfig} bg="#fff" />
      <Panel left={2265} top={0} width={244} height={660} make={() => colorbarConfig(cbarTicksRight, 29, 244, 170)} />
    </div>
  );
}
